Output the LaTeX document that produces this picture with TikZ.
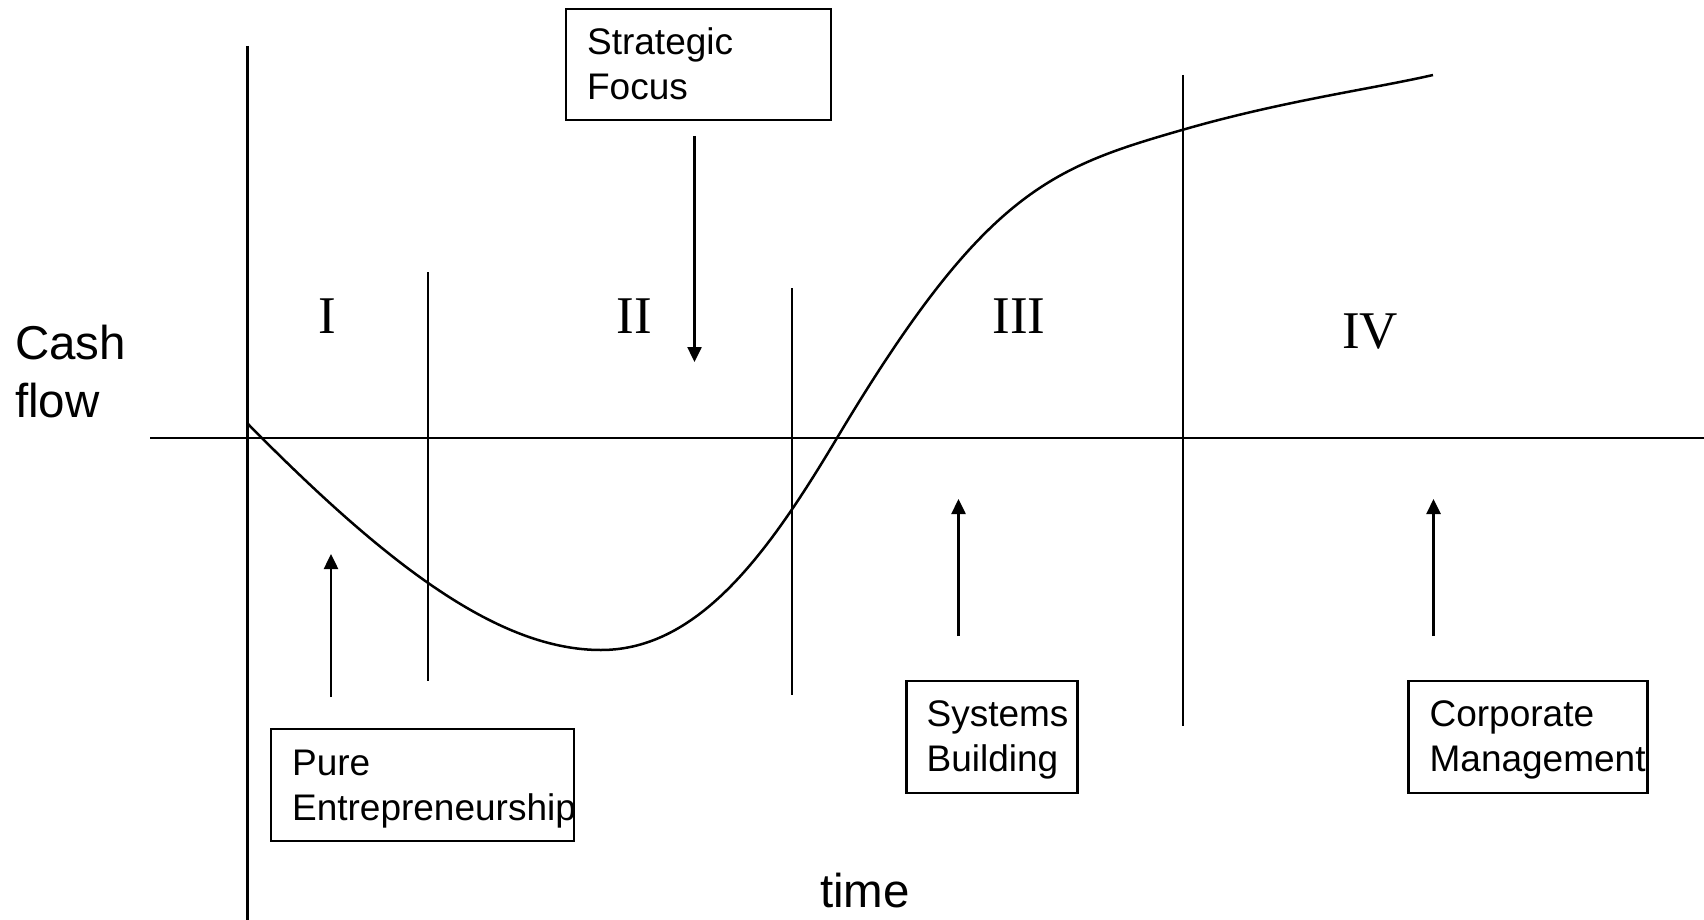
\documentclass[tikz,border=0pt]{standalone}
\usepackage{fontspec}
\setmainfont{Liberation Serif}
\newfontfamily\labelfont{Liberation Sans}
\usetikzlibrary{arrows.meta}
\tikzset{rule/.style={draw=black, line width=2.5pt},
 pointer/.style={rule, -{Triangle[width=14pt, length=15pt]}},
 stagebox/.style={draw=black, line width=2.2pt, inner sep=0pt},
 stagetext/.style={font=\labelfont\fontsize{37}{45}\selectfont,
 align=left, inner sep=0pt, anchor=base west},
 numeral/.style={font=\fontsize{53}{60}\selectfont, inner sep=0pt, anchor=base},
 axislabel/.style={font=\labelfont\fontsize{47.5}{58}\selectfont,
 align=left, inner sep=0pt, anchor=base west}
}

\begin{document}
\begin{tikzpicture}[x=1pt, y=-1pt]

\useasboundingbox (0,0) rectangle (1704,920);

\draw [rule] (150,438) -- (1704,438);
\foreach \x/\a/\b in {247.5/46/920, 428/272/681, 792/288/695, 1183/75/726}
\draw [rule] (\x,\a) -- (\x,\b);

\draw [rule]
  (248,424) .. controls (390,568) and (500,650) .. (601,650)
  .. controls (700,650) and (770,550) .. (837,438)
  .. controls (984,192) and (1050,168) .. (1182,130)
  .. controls (1282,101) and (1372,89) .. (1433,75);

\foreach \n/\x/\y in {I/327.5/333, II/634/333, III/1019/333, IV/1370/348}
\node [numeral] (stage\n) at (\x,\y) {\n};

\node [axislabel] (cashflow) at (15,417) {Cash\\flow};
\node [axislabel] (time) at (820,907) {time};

\node [stagebox, minimum width=265, minimum height=111] (focus) at (698.5,64.5) {};
\node [stagebox, minimum width=303, minimum height=112] (pure) at (422.5,785) {};
\node [stagebox, minimum width=171, minimum height=112] (systems) at (992,737) {};
\node [stagebox, minimum width=239, minimum height=112] (corporate) at (1528,737) {};

\node [stagetext] (focuslabel) at ([shift={(22,92)}]focus.north west) {Strategic\\Focus};
\node [stagetext] (purelabel) at ([shift={(22,93)}]pure.north west) {Pure\\Entrepreneurship};
\node [stagetext] (systemslabel) at ([shift={(21,92)}]systems.north west) {Systems\\Building};
\node [stagetext] (corporatelabel) at ([shift={(22,92)}]corporate.north west) {Corporate\\Management};

\coordinate (focustail) at (694.5,136);
\coordinate (focustip) at (694.5,362);
\draw [pointer] (focustail) -- (focustip);

\foreach \n/\x/\a/\b in {pure/331/697/554, systems/958.5/636/499, corporate/1433.5/636/499}
{
\coordinate (\n tail) at (\x,\a);
\coordinate (\n tip) at (\x,\b);
\draw [pointer] (\n tail) -- (\n tip);
}
\end{tikzpicture}
\end{document}
